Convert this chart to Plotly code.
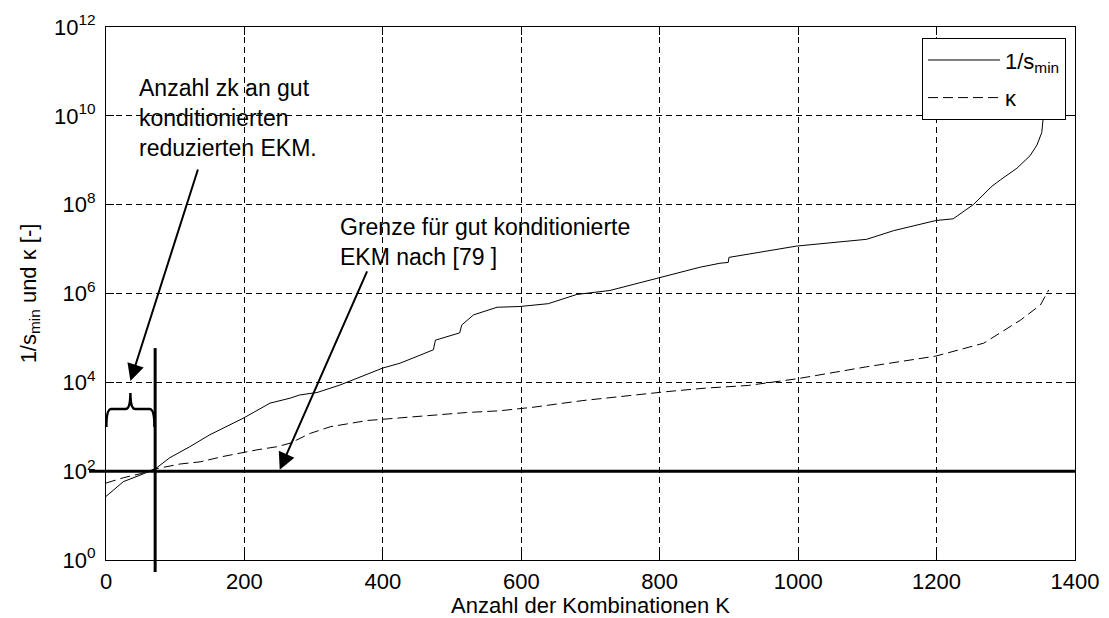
import plotly.graph_objects as go
import math

# ---- data ----
x_smin = [0, 25, 49, 71, 92, 121, 150, 198, 237, 266, 280, 305, 338, 400, 425, 473, 476, 511, 514,
          531, 565, 598, 639, 680, 728, 797, 858, 887, 899, 900, 998, 1099, 1138, 1199, 1224, 1253,
          1280, 1292, 1316, 1335, 1345, 1352, 1354]
y_smin = [27, 58, 81, 112, 200, 355, 660, 1550, 3400, 4400, 5200, 5900, 8700, 2.1e4, 2.7e4, 5.4e4,
          8.9e4, 1.3e5, 1.95e5, 3.3e5, 4.9e5, 5.1e5, 5.9e5, 9.5e5, 1.17e6, 2.2e6, 3.9e6, 4.8e6, 5.0e6,
          6.5e6, 1.17e7, 1.66e7, 2.6e7, 4.4e7, 4.8e7, 1.0e8, 2.6e8, 3.6e8, 6.6e8, 1.26e9, 2.2e9,
          4.2e9, 8.9e9]

x_kappa = [0, 25, 49, 71, 107, 136, 169, 218, 247, 266, 295, 324, 377, 449, 521, 569, 617, 689,
           762, 810, 866, 928, 998, 1099, 1199, 1268, 1321, 1350, 1362]
y_kappa = [54, 71, 87, 112, 145, 162, 214, 302, 355, 427, 708, 1000, 1380, 1700, 2090, 2290, 2750,
           3890, 5250, 6170, 7410, 8510, 1.2e4, 2.24e4, 3.9e4, 7.6e4, 2.5e5, 5.5e5, 1.2e6]

x_ticks = [0, 200, 400, 600, 800, 1000, 1200, 1400]
y_exp = [0, 2, 4, 6, 8, 10, 12]
y_ticks = [10 ** e for e in y_exp]
y_ticktext = ["10<sup>%d</sup>" % e for e in y_exp]

limit_value = 100        # Grenze für gut konditionierte EKM
count_good = 71          # Anzahl gut konditionierter reduzierter EKM
y_decades = 12

FONT = "Liberation Sans, Arial, Helvetica, sans-serif"

fig = go.Figure()
fig.add_trace(go.Scatter(x=x_smin, y=y_smin, mode="lines", name="1/s<sub>min</sub>",
                         line=dict(color="black", width=1), legendgroup="a"))
fig.add_trace(go.Scatter(x=x_kappa, y=y_kappa, mode="lines", name="κ",
                         line=dict(color="black", width=1, dash="10px,5px"), legendgroup="b"))

def yp(v):
    return math.log10(v) / y_decades

# thick limit line (horizontal) and vertical separator
fig.add_shape(type="line", xref="paper", yref="paper", x0=-0.0175, x1=1.0,
              y0=yp(limit_value), y1=yp(limit_value), line=dict(color="black", width=3))
fig.add_shape(type="line", xref="x", yref="paper", x0=count_good, x1=count_good,
              y0=-0.0225, y1=yp(5.9e4), line=dict(color="black", width=3))

# curly brace over the well-conditioned range
b0, b1 = 0.5, count_good - 1
bm = (b0 + b1) / 2
ylo, ymid, ytop = 0.2495, 0.2833, 0.3133
path = (f"M {b0},{ylo} Q {b0},{ymid} {b0+7},{ymid} L {bm-7},{ymid} "
        f"Q {bm},{ymid} {bm},{ytop} Q {bm},{ymid} {bm+7},{ymid} "
        f"L {b1-7},{ymid} Q {b1},{ymid} {b1},{ylo}")
fig.add_shape(type="path", xref="x", yref="paper", path=path,
              line=dict(color="black", width=2.5))

# annotations
fig.add_annotation(x=bm, y=4.03, xref="x", yref="y", text="", showarrow=True,
                   ax=68, ay=-213, axref="pixel", ayref="pixel",
                   arrowhead=2, arrowsize=1.7, arrowwidth=2, arrowcolor="black", standoff=0)
fig.add_annotation(x=251, y=2.03, xref="x", yref="y", text="", showarrow=True,
                   ax=88, ay=-200, axref="pixel", ayref="pixel",
                   arrowhead=2, arrowsize=1.7, arrowwidth=2, arrowcolor="black", standoff=0)
fig.add_annotation(x=44.8, y=9.95, xref="x", yref="y", xanchor="left", yanchor="middle",
                   align="left", showarrow=False,
                   text="Anzahl zk an gut<br>konditionierten<br>reduzierten EKM.",
                   font=dict(family=FONT, size=23, color="black"))
fig.add_annotation(x=335.3, y=7.15, xref="x", yref="y", xanchor="left", yanchor="middle",
                   align="left", showarrow=False,
                   text="Grenze für gut konditionierte<br>EKM nach [79 ]",
                   font=dict(family=FONT, size=23, color="black"))

axis_common = dict(showline=True, linecolor="black", linewidth=1, mirror="ticks",
                   ticks="inside", ticklen=8, tickcolor="black", tickwidth=1,
                   showgrid=True, gridcolor="black", gridwidth=1, griddash="6px,4px",
                   zeroline=False, automargin=False,
                   tickfont=dict(family=FONT, size=22, color="black"))

fig.update_xaxes(range=[0, 1400], tickvals=x_ticks, ticktext=[str(t) for t in x_ticks],
                 title=dict(text="Anzahl der Kombinationen K",
                            font=dict(family=FONT, size=22, color="black"), standoff=6),
                 ticklabelstandoff=2, **axis_common)
fig.update_yaxes(type="log", range=[0, 12], tickvals=y_ticks, ticktext=y_ticktext,
                 title=dict(text="1/s<sub>min</sub> und κ [-]",
                            font=dict(family=FONT, size=22, color="black"), standoff=11),
                 ticklabelstandoff=5, **axis_common)

fig.update_layout(
    width=1109, height=618,
    margin=dict(l=106, r=34, t=27, b=58, autoexpand=False),
    paper_bgcolor="white", plot_bgcolor="white",
    font=dict(family=FONT, size=22, color="black"),
    showlegend=True,
    legend=dict(x=0.9907, y=0.979, xanchor="right", yanchor="top",
                bgcolor="white", bordercolor="black", borderwidth=1,
                font=dict(family=FONT, size=22, color="black"),
                itemwidth=72, tracegroupgap=6, traceorder="grouped"),
)

fig.write_html("out.html")
